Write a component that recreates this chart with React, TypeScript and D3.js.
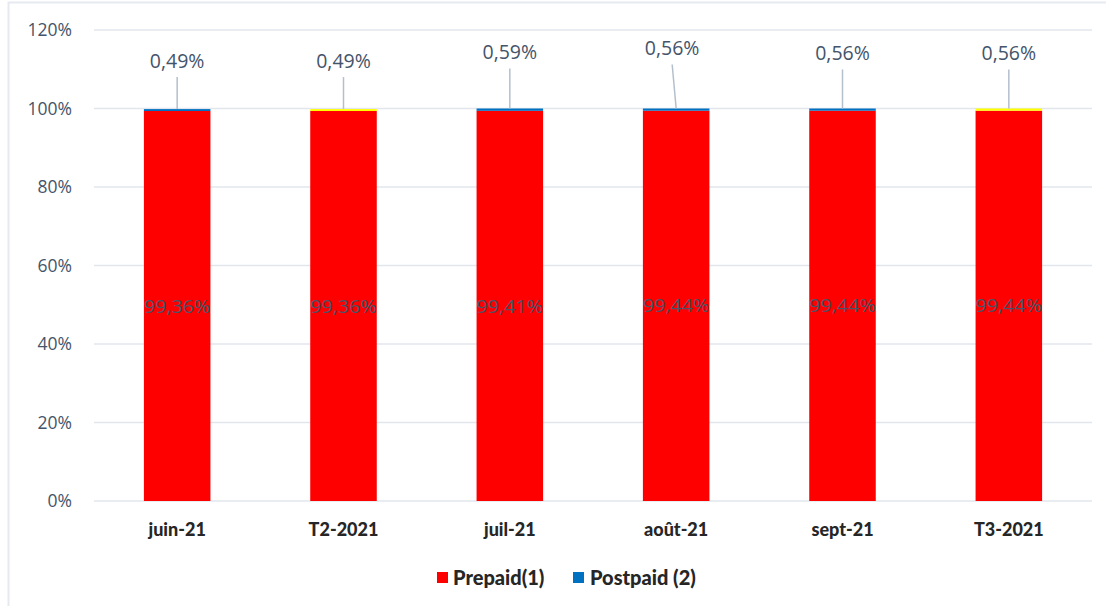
import React from "react";
import * as d3 from "d3";

const categories = ["juin-21", "T2-2021", "juil-21", "août-21", "sept-21", "T3-2021"];
const prepaid = [99.36, 99.36, 99.41, 99.44, 99.44, 99.44];
const postpaid = [0.49, 0.49, 0.59, 0.56, 0.56, 0.56];
const postpaidPointColors = ["#0070c0", "#ffff00", "#0070c0", "#0070c0", "#0070c0", "#ffff00"];
const yTicks = [0, 20, 40, 60, 80, 100, 120];
const seriesNames = ["Prepaid(1)", "Postpaid (2)"];
// layout only: how high above the bar each top label sits (px)
const labelLift = [48, 48, 56, 60, 55, 55];
const labelShift = [0, 0, 0, -4, 0, 0];

const W = 1106;
const H = 606;
const M = { left: 94, right: 1092, top: 30, bottom: 501 };

const fmt = (v: number) => v.toFixed(2).replace(".", ",") + "%";

export default function App() {
  const x = d3.scaleBand<string>().domain(categories).range([M.left, M.right]).paddingInner(0.6).paddingOuter(0.3);
  const y = d3.scaleLinear().domain([0, 120]).range([M.bottom, M.top]);
  const bw = x.bandwidth();
  const tickFont = "'Open Sans', sans-serif";
  const boldFont = "Lato, 'Open Sans', sans-serif";

  return (
    <svg width={W} height={H} style={{ position: "absolute", left: 0, top: 0, background: "#fff" }}>
      <rect x={8.5} y={2.5} width={W} height={H} fill="#fff" stroke="#e6e9ef" strokeWidth={2} />
      {yTicks.map((t) => (
        <g key={t}>
          <line x1={M.left} x2={M.right} y1={y(t)} y2={y(t)} stroke="#e2e6ec" strokeWidth={1.5} />
          <text x={72} y={y(t)} dy="0.35em" textAnchor="end" fontFamily={tickFont} fontSize={17.5} fill="#44546a">
            {t + "%"}
          </text>
        </g>
      ))}
      {categories.map((c, i) => {
        const x0 = x(c)!;
        const cx = x0 + bw / 2;
        const pTop = y(prepaid[i]);
        const qTop = y(prepaid[i] + postpaid[i]);
        const lx = cx + labelShift[i];
        const ly = qTop - labelLift[i];
        return (
          <g key={c}>
            <rect x={x0} y={pTop} width={bw} height={y(0) - pTop} fill="#ff0000" />
            <rect x={x0} y={qTop} width={bw} height={pTop - qTop} fill={postpaidPointColors[i]} />
            <line x1={lx} y1={ly + 16} x2={cx} y2={qTop} stroke="#b4bfcc" strokeWidth={1.5} />
            <text x={lx} y={ly} dy="0.35em" textAnchor="middle" fontFamily={tickFont} fontSize={19.5} fill="#44546a">
              {fmt(postpaid[i])}
            </text>
            <text x={cx} y={(pTop + y(0)) / 2} dy="0.35em" textAnchor="middle" fontFamily={tickFont} fontSize={19} fill="#4a5468" textLength={bw} lengthAdjust="spacingAndGlyphs">
              {fmt(prepaid[i])}
            </text>
            <text x={cx} y={530} dy="0.35em" textAnchor="middle" fontFamily={boldFont} fontWeight="900" fontSize={18} fill="#262626">
              {c}
            </text>
          </g>
        );
      })}
      <g>
        <rect x={437} y={572} width={11} height={11} fill="#ff0000" />
        <text x={453} y={578} dy="0.35em" fontFamily={boldFont} fontWeight="900" fontSize={20} fill="#262626">{seriesNames[0]}</text>
        <rect x={573} y={572} width={11} height={11} fill="#0070c0" />
        <text x={590} y={578} dy="0.35em" fontFamily={boldFont} fontWeight="900" fontSize={20} fill="#262626">{seriesNames[1]}</text>
      </g>
    </svg>
  );
}
